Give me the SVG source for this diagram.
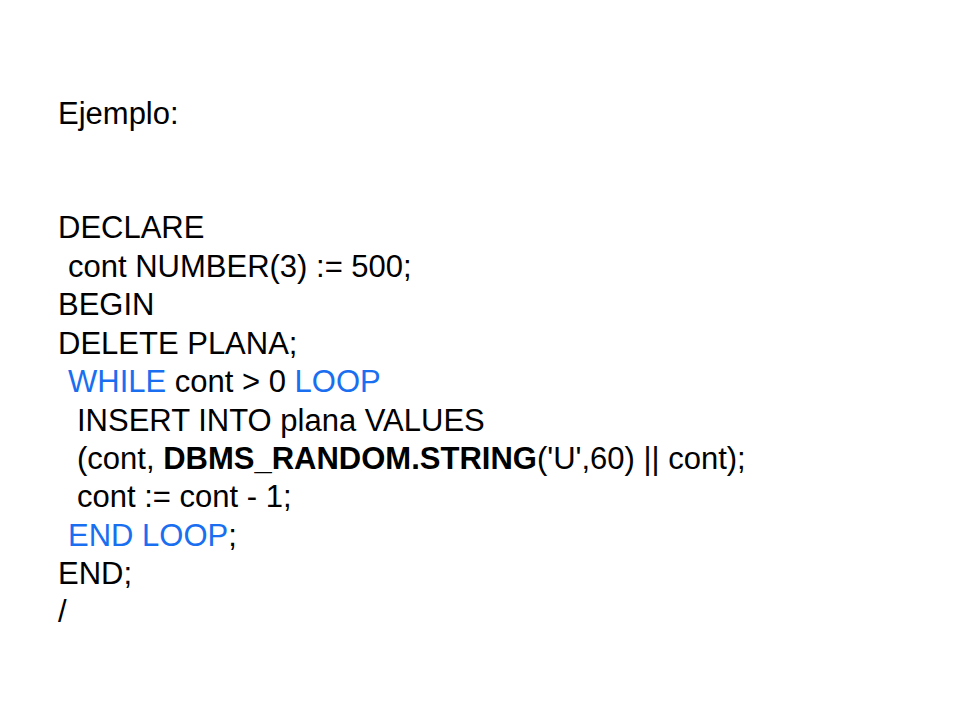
<svg xmlns="http://www.w3.org/2000/svg" width="960" height="720" viewBox="0 0 960 720">
<style>
text{font-family:"Liberation Sans",Arial,sans-serif;font-size:31px;fill:#000}
.b{fill:#1a6ff0}
.k{font-weight:bold}
</style>
<rect width="960" height="720" fill="#fff"/>
<g id="code">
<text x="58" y="124">Ejemplo:</text>
<text x="58" y="238">DECLARE</text>
<text x="68" y="277">cont NUMBER(3) := 500;</text>
<text x="58" y="315">BEGIN</text>
<text x="58" y="354">DELETE PLANA;</text>
<text x="68" y="392"><tspan class="b">WHILE</tspan> cont &gt; 0 <tspan class="b">LOOP</tspan></text>
<text x="77" y="431">INSERT INTO plana VALUES</text>
<text x="77" y="469">(cont, <tspan class="k">DBMS_RANDOM.STRING</tspan>('U',60) || cont);</text>
<text x="77" y="507">cont := cont - 1;</text>
<text x="68" y="546"><tspan class="b">END LOOP</tspan>;</text>
<text x="58" y="584">END;</text>
<text x="58" y="622">/</text>
</g>
</svg>
